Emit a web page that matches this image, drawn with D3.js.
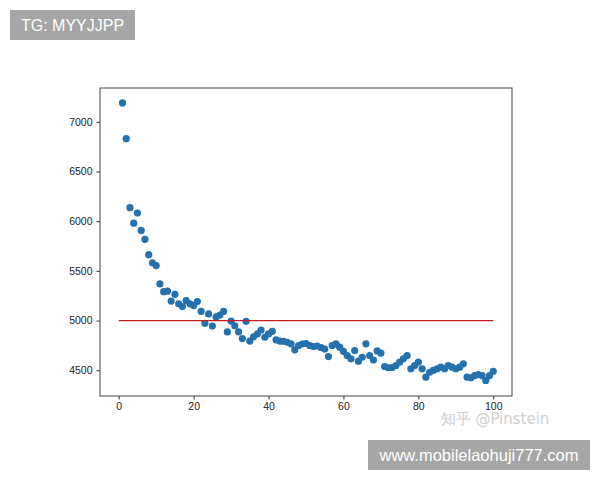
<!DOCTYPE html>
<html>
<head>
<meta charset="utf-8">
<script src="https://cdn.jsdelivr.net/npm/d3@7"></script>
<style>
  body { margin: 0; background: #fff; }
  svg { display: block; font-family: "DejaVu Sans", sans-serif; }
</style>
</head>
<body>
<div id="chart"></div>
<script>
// scatter values, x = 1..100
const values = [
  7190, 6830, 6136, 5980, 6082, 5907, 5817, 5663, 5581, 5553,
  5369, 5291, 5296, 5196, 5264, 5168, 5141, 5201, 5168, 5151,
  5191, 5093, 4973, 5067, 4945, 5037, 5055, 5092, 4886, 4995,
  4948, 4887, 4819, 4992, 4794, 4836, 4866, 4905, 4832, 4866,
  4892, 4806, 4794, 4792, 4782, 4766, 4706, 4749, 4764, 4769,
  4749, 4739, 4744, 4729, 4714, 4638, 4749, 4766, 4732, 4691,
  4648, 4615, 4698, 4591, 4631, 4766, 4648, 4603, 4695, 4673,
  4538, 4525, 4528, 4548, 4581, 4615, 4648, 4515, 4548, 4581,
  4515, 4430, 4480, 4498, 4515, 4531, 4515, 4548, 4531, 4515,
  4531, 4565, 4430, 4424, 4447, 4457, 4447, 4397, 4447, 4490
]
const xs = values.map((d, i) => i + 1)
const threshold = 5000
const lineX = [0, 100]
const xTicks = [0, 20, 40, 60, 80, 100]
const yTicks = [4500, 5000, 5500, 6000, 6500, 7000]

const W = 600, H = 480
const MARGIN = { TOP: 88, LEFT: 100, RIGHT: 88, BOTTOM: 84 }

const svg = d3.select("#chart").append("svg")
  .attr("width", W).attr("height", H)

const x = d3.scaleLinear().domain([-5, 105]).range([MARGIN.LEFT, W - MARGIN.RIGHT])
const y = d3.scaleLinear().domain([4241, 7340]).range([H - MARGIN.BOTTOM, MARGIN.TOP])

// axes
const xAxis = svg.append("g")
  .attr("transform", `translate(0, ${H - MARGIN.BOTTOM})`)
  .call(d3.axisBottom(x).tickValues(xTicks).tickSize(3.5).tickPadding(3))
const yAxis = svg.append("g")
  .attr("transform", `translate(${MARGIN.LEFT}, 0)`)
  .call(d3.axisLeft(y).tickValues(yTicks).tickSize(3.5).tickPadding(4).tickFormat(d3.format("d")))

for (const g of [xAxis, yAxis]) {
  g.select(".domain").remove()
  g.selectAll("line").attr("stroke", "#333")
  g.selectAll("text").attr("fill", "#222").style("font-size", "10.5px")
}

// frame
svg.append("rect")
  .attr("x", MARGIN.LEFT).attr("y", MARGIN.TOP)
  .attr("width", W - MARGIN.LEFT - MARGIN.RIGHT)
  .attr("height", H - MARGIN.TOP - MARGIN.BOTTOM)
  .attr("fill", "none").attr("stroke", "#444").attr("stroke-width", 1)

// points
svg.append("g").selectAll("circle")
  .data(values)
  .join("circle")
  .attr("cx", (d, i) => x(xs[i]))
  .attr("cy", d => y(d))
  .attr("r", 3.6)
  .attr("fill", "#2471ad")

// threshold line
svg.append("line")
  .attr("x1", x(lineX[0])).attr("x2", x(lineX[1]))
  .attr("y1", y(threshold)).attr("y2", y(threshold))
  .attr("stroke", "#c41e24").attr("stroke-width", 1.3)

// watermarks
svg.append("text")
  .attr("x", 495).attr("y", 424)
  .attr("text-anchor", "middle")
  .attr("fill", "#d0d0d0")
  .style("font-size", "15px")
  .text("知乎 @Pinstein")

svg.append("rect")
  .attr("x", 10).attr("y", 10).attr("width", 125).attr("height", 30)
  .attr("fill", "#a6a6a6")
svg.append("text")
  .attr("x", 72.5).attr("y", 31)
  .attr("text-anchor", "middle")
  .attr("fill", "#fff")
  .style("font-family", "Liberation Sans, Arial, sans-serif")
  .style("font-size", "16px")
  .text("TG: MYYJJPP")

svg.append("rect")
  .attr("x", 368).attr("y", 440).attr("width", 222).attr("height", 30)
  .attr("fill", "#a6a6a6")
svg.append("text")
  .attr("x", 479).attr("y", 461)
  .attr("text-anchor", "middle")
  .attr("fill", "#fff")
  .style("font-family", "Liberation Sans, Arial, sans-serif")
  .style("font-size", "16.5px")
  .text("www.mobilelaohuji777.com")
</script>
</body>
</html>
